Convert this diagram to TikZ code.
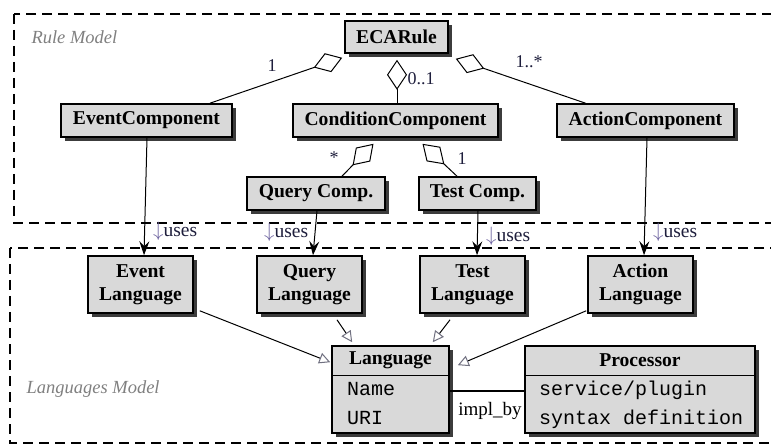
\documentclass[tikz,border=0pt]{standalone}
\usepackage{fontspec}
\setmainfont{Liberation Serif}
\setmonofont{Liberation Mono}
\usetikzlibrary{arrows.meta,shadows,calc}
\definecolor{boxgray}{HTML}{D9D9D9}
\definecolor{shadowgray}{HTML}{3C3C3C}
\definecolor{labelgray}{HTML}{808080}
\definecolor{multcol}{HTML}{1E1E3C}
\definecolor{usescol}{HTML}{6E64A0}
\definecolor{gentip}{HTML}{707080}
\begin{document}
\begin{tikzpicture}[x=1pt,y=-1pt,
  cls/.style={draw=black, line width=1.6pt, fill=boxgray, inner sep=0pt,
    drop shadow={shadow xshift=4pt, shadow yshift=-4pt, fill=shadowgray, opacity=1},
    font=\fontsize{19.6}{23.5}\selectfont\bfseries, align=center},
  onerow/.style={cls, minimum height=33pt},
  tworow/.style={cls, minimum width=105pt, minimum height=57pt},
  umlclass/.style={cls, minimum height=87pt},
  region/.style={line width=1.8pt, dash pattern=on 10pt off 6pt},
  regionlabel/.style={anchor=west, text=labelgray, font=\fontsize{18.5}{20}\selectfont\itshape},
  mult/.style={anchor=base, text=multcol, inner sep=0pt, font=\fontsize{18}{20}\selectfont},
  useslabel/.style={anchor=base west, inner sep=0pt, text=multcol, font=\fontsize{19.5}{21}\selectfont},
  clshead/.style={inner sep=0pt, font=\fontsize{19.6}{23.5}\selectfont\bfseries},
  attr/.style={anchor=base west, inner sep=0pt, font=\fontsize{20}{22}\selectfont\ttfamily},
  aggr/.style={line width=1pt, -{Diamond[length=30pt, width=20pt, fill=white, line width=1pt]}},
  uses/.style={line width=1pt, -{Stealth[length=14pt, width=10pt, inset=5pt]}},
  gen/.style={line width=1pt, -{Triangle[length=11pt, width=11pt, color=gentip, fill=white, line width=1pt]}},
  assoc/.style={line width=1.2pt}
]
\useasboundingbox (0,0) rectangle (771,446);

% regions
\begin{scope}
  \clip (0,0) rectangle (771,446);
  \draw[region] (14,14) rectangle (800,223);
  \draw[region] (10,248) rectangle (800,443);
\end{scope}
\node[regionlabel] (rulemodel) at (28,37) {Rule Model};
\node[regionlabel] (langmodel) at (23,389) {Languages Model};

% rule model classes
\node[onerow, minimum width=103pt, minimum height=32pt] (eca) at (396.5,37) {ECARule};
\node[onerow, minimum width=171pt] (ev) at (146.5,120.5) {EventComponent};
\node[onerow, minimum width=205pt] (cond) at (395.5,120.5) {ConditionComponent};
\node[onerow, minimum width=177pt] (act) at (645.5,120.5) {ActionComponent};
\node[onerow, minimum width=138pt] (qc) at (316,193.5) {Query Comp.};
\node[onerow, minimum width=117pt] (tc) at (477.5,193.5) {Test Comp.};

% languages
\node[tworow] (evl) at (140.5,284.5) {Event\\Language};
\node[tworow] (ql) at (309.5,284.5) {Query\\Language};
\node[tworow] (tl) at (472.5,284.5) {Test\\Language};
\node[tworow] (al) at (640.5,284.5) {Action\\Language};

% language / processor classes
\node[umlclass, minimum width=117pt] (lang) at (390.5,389.5) {};
\node[umlclass, minimum width=230pt] (proc) at (640,389.5) {};
\draw[line width=1pt] (lang.west |- 0,375) -- (lang.east |- 0,375);
\draw[line width=1pt] (proc.west |- 0,375) -- (proc.east |- 0,375);
\node[clshead] (langhead) at (390.5,360.5) {Language};
\node[clshead] (prochead) at (640,360.5) {Processor};
\node[attr] (aname) at (347,395) {Name};
\node[attr] (auri) at (347,424) {URI};
\node[attr] (aserv) at (539,395) {service/plugin};
\node[attr] (asyn) at (539,424) {syntax definition};

% aggregations
\draw[aggr] ($(ev.north)+(63.5,0)$) -- ($(eca.south west)+(-2,4)$);
\draw[aggr] ($(cond.north)+(1.5,0)$) -- ($(eca.south)+(0.5,6)$);
\draw[aggr] ($(act.north)+(-60,0)$) -- ($(eca.south east)+(7,5)$);
\draw[aggr] ($(qc.north)+(26,0)$) -- ($(cond.south)+(-22,6)$);
\draw[aggr] ($(tc.north)+(-20.5,0)$) -- ($(cond.south)+(27,6)$);

\node[mult] (m1) at (272,72) {1};
\node[mult] (m2) at (421,85) {0..1};
\node[mult] (m3) at (529,68) {1..*};
\node[mult] (m4) at (334,164) {*};
\node[mult] (m5) at (462,165) {1};

% uses
\draw[uses] ($(ev.south)+(0.5,0)$) -- ($(evl.north)+(3.5,0)$);
\draw[uses] ($(qc.south)+(1,0)$) -- ($(ql.north)+(3.5,0)$);
\draw[uses] ($(tc.south)+(0.5,0)$) -- ($(tl.north)+(4.5,0)$);
\draw[uses] ($(act.south)+(1.5,0)$) -- ($(al.north)+(3.5,0)$);
\node[useslabel] (u1) at (153,237) {{\color{usescol}$\downarrow$}uses};
\node[useslabel] (u2) at (264,238) {{\color{usescol}$\downarrow$}uses};
\node[useslabel] (u3) at (486,242) {{\color{usescol}$\downarrow$}uses};
\node[useslabel] (u4) at (653,238) {{\color{usescol}$\downarrow$}uses};

% generalizations
\draw[gen] ($(evl.south east)+(6,-3)$) -- ($(lang.north west)+(-1,17)$);
\draw[gen] ($(ql.south)+(27.5,6)$) -- ($(lang.north west)+(21,-3)$);
\draw[gen] ($(tl.south)+(-22.5,6)$) -- ($(lang.north east)+(-17,-3)$);
\draw[gen] ($(al.south west)+(-1,-3)$) -- ($(lang.north east)+(8,20)$);

% impl_by
\draw[assoc] ($(lang.east)+(0,1.5)$) -- ($(proc.west)+(0,1.5)$);
\node[anchor=base, inner sep=0pt, font=\fontsize{19}{21}\selectfont] (implby) at (490,415) {impl\_by};
\end{tikzpicture}
\end{document}
